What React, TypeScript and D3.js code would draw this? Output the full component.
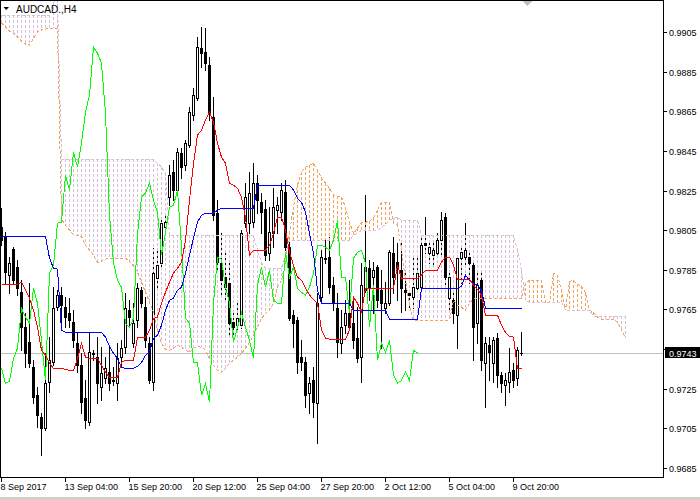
import React from "react";
import * as d3 from "d3";

const symbolLabel = "AUDCAD.,H4";
const lastPrice = 0.9743;
const chikouShift = 26;

const opens = [
  0.98065, 0.98015, 0.97823, 0.97954, 0.97863, 0.97737, 0.9756, 0.97484, 0.97358, 0.97217,
  0.97106, 0.9705, 0.97282, 0.97383, 0.97661, 0.97722, 0.97661, 0.97631, 0.97585, 0.97479,
  0.97368, 0.97201, 0.9708, 0.97429, 0.97409, 0.97257, 0.97302, 0.97333, 0.97292, 0.97277,
  0.97409, 0.97459, 0.97646, 0.97479, 0.97595, 0.97747, 0.97661, 0.97479, 0.97282, 0.97807,
  0.97883, 0.98065, 0.98216, 0.98343, 0.98252, 0.98439, 0.98378, 0.98479, 0.9863, 0.98716,
  0.98969, 0.98948, 0.98883, 0.9862, 0.98136, 0.97883, 0.97812, 0.97782, 0.97585, 0.9757,
  0.9757, 0.98085, 0.98085, 0.9809, 0.98287, 0.98191, 0.98156, 0.97934, 0.98034, 0.98151,
  0.98141, 0.98242, 0.97964, 0.97621, 0.97595, 0.97409, 0.97383, 0.97227, 0.97292, 0.97176,
  0.97712, 0.97909, 0.97914, 0.97772, 0.97656, 0.97479, 0.9757, 0.97631, 0.9758, 0.97505,
  0.97409, 0.97747, 0.97858, 0.97812, 0.97863, 0.97747, 0.97656, 0.97681, 0.97934, 0.97888,
  0.97848, 0.97747, 0.97732, 0.97712, 0.97757, 0.97762, 0.97984, 0.97934, 0.97924, 0.97934,
  0.97999, 0.98115, 0.97706, 0.97696, 0.97621, 0.97909, 0.97914, 0.97914, 0.97873, 0.9758,
  0.97797, 0.97378, 0.97469, 0.97378, 0.97505, 0.97318, 0.97267, 0.97282, 0.97343, 0.97302,
  0.97432,
];
const highs = [
  0.98161, 0.9804, 0.97914, 0.97964, 0.97898, 0.97797, 0.97631, 0.97782, 0.97393, 0.97257,
  0.97126, 0.97429, 0.9751, 0.97762, 0.97747, 0.97762, 0.97712, 0.97706, 0.97646, 0.9753,
  0.97429, 0.97292, 0.9753, 0.97444, 0.9751, 0.97459, 0.97409, 0.97459, 0.97358, 0.97479,
  0.97494, 0.97732, 0.97696, 0.97681, 0.97782, 0.97762, 0.97712, 0.9751, 0.97959, 0.97949,
  0.981, 0.98136, 0.98378, 0.98403, 0.98464, 0.98464, 0.98504, 0.98671, 0.98767, 0.99024,
  0.99075, 0.9907, 0.98923, 0.98721, 0.98201, 0.98034, 0.97934, 0.97898, 0.97631, 0.97696,
  0.9805, 0.98287, 0.98343, 0.98388, 0.98328, 0.98237, 0.98201, 0.98166, 0.98262, 0.98216,
  0.98287, 0.98302, 0.98015, 0.97646, 0.97611, 0.97494, 0.97409, 0.97307, 0.97358, 0.97732,
  0.97949, 0.97999, 0.98015, 0.97812, 0.97732, 0.97646, 0.97696, 0.97797, 0.97712, 0.97661,
  0.97883, 0.98227, 0.97898, 0.97888, 0.97873, 0.97848, 0.97787, 0.97949, 0.98015, 0.97984,
  0.97984, 0.97833, 0.97747, 0.97914, 0.97914, 0.98015, 0.98115, 0.97999, 0.97984, 0.98034,
  0.98141, 0.98136, 0.97848, 0.97747, 0.97924, 0.97974, 0.98085, 0.97949, 0.97883, 0.97833,
  0.97848, 0.9751, 0.9751, 0.9751, 0.9753, 0.97333, 0.97328, 0.97454, 0.97378, 0.97459,
  0.97535,
];
const lows = [
  0.97974, 0.97782, 0.97732, 0.97782, 0.97722, 0.97444, 0.97358, 0.97358, 0.97176, 0.97055,
  0.96914, 0.9704, 0.97232, 0.97368, 0.97646, 0.9756, 0.9756, 0.9756, 0.97459, 0.97333,
  0.97126, 0.9705, 0.97065, 0.97393, 0.97176, 0.97191, 0.97277, 0.97242, 0.97267, 0.97191,
  0.97358, 0.97429, 0.9756, 0.97459, 0.9756, 0.97661, 0.97459, 0.97277, 0.97242, 0.97747,
  0.97863, 0.98025, 0.98176, 0.98201, 0.98237, 0.98312, 0.98353, 0.98469, 0.98605, 0.98706,
  0.98873, 0.98858, 0.98605, 0.981, 0.97848, 0.97712, 0.97696, 0.9751, 0.97494, 0.97545,
  0.97555, 0.98065, 0.98034, 0.98065, 0.98136, 0.98034, 0.97898, 0.97898, 0.97964, 0.98034,
  0.981, 0.97949, 0.97595, 0.97459, 0.97328, 0.97343, 0.97156, 0.97126, 0.97106, 0.96974,
  0.97681, 0.97883, 0.97732, 0.97646, 0.97409, 0.97429, 0.9753, 0.97545, 0.97454, 0.97383,
  0.97282, 0.97737, 0.97696, 0.97631, 0.97661, 0.97454, 0.97631, 0.97671, 0.97732, 0.97696,
  0.97636, 0.97646, 0.97661, 0.97656, 0.97747, 0.97747, 0.97934, 0.97883, 0.97863, 0.97914,
  0.97914, 0.97762, 0.97646, 0.9758, 0.97454, 0.97782, 0.97863, 0.97782, 0.97393, 0.97479,
  0.97343, 0.97156, 0.97292, 0.97282, 0.97257, 0.97232, 0.97166, 0.97232, 0.97257, 0.97267,
  0.97419,
];
const closes = [
  0.97999, 0.97838, 0.97883, 0.97797, 0.97757, 0.9756, 0.97429, 0.97378, 0.97207, 0.97116,
  0.9705, 0.97277, 0.97393, 0.97656, 0.97722, 0.97671, 0.97611, 0.97595, 0.97494, 0.97368,
  0.97181, 0.9709, 0.97434, 0.97424, 0.97277, 0.97328, 0.97353, 0.97277, 0.97287, 0.97403,
  0.97454, 0.97656, 0.97611, 0.9758, 0.97757, 0.97681, 0.97494, 0.97292, 0.97833, 0.97873,
  0.98085, 0.9809, 0.98328, 0.98252, 0.98444, 0.98368, 0.98489, 0.98646, 0.98731, 0.98974,
  0.98943, 0.98893, 0.9864, 0.98126, 0.97888, 0.97797, 0.97762, 0.9758, 0.9756, 0.97605,
  0.98034, 0.98216, 0.98237, 0.98287, 0.98201, 0.98141, 0.97924, 0.9804, 0.98166, 0.98176,
  0.98252, 0.97964, 0.97605, 0.9758, 0.97383, 0.97383, 0.97217, 0.97277, 0.97181, 0.97681,
  0.97914, 0.97904, 0.97762, 0.97681, 0.97484, 0.9756, 0.97631, 0.9756, 0.97494, 0.97403,
  0.97772, 0.97863, 0.97762, 0.97848, 0.97696, 0.97681, 0.97681, 0.97939, 0.97812, 0.97863,
  0.97757, 0.97737, 0.97722, 0.97762, 0.97833, 0.97974, 0.97974, 0.97964, 0.97949, 0.97999,
  0.981, 0.97812, 0.97812, 0.97631, 0.97909, 0.97939, 0.97949, 0.97883, 0.9756, 0.97772,
  0.97393, 0.97479, 0.97434, 0.97494, 0.97318, 0.97277, 0.97292, 0.97333, 0.97292, 0.97444,
  0.9743,
];

const tenkan = [
  0.97777, 0.97777, 0.97777, 0.97777, 0.97777, 0.97787, 0.97747, 0.97706, 0.97646, 0.9756,
  0.97444, 0.97419, 0.97378, 0.97353, 0.97353, 0.97353, 0.97348, 0.97343, 0.97343, 0.97403,
  0.97479, 0.97409, 0.97403, 0.97403, 0.97403, 0.97368, 0.97333, 0.97307, 0.97307, 0.97307,
  0.97383, 0.97393, 0.97393, 0.97393, 0.9751, 0.9751, 0.9751, 0.97545, 0.97605, 0.97611,
  0.97681, 0.97737, 0.97787, 0.97833, 0.97858, 0.97888, 0.97999, 0.98201, 0.98388, 0.9853,
  0.98555, 0.98605, 0.98646, 0.98595, 0.98489, 0.98418, 0.98388, 0.98287, 0.98277, 0.98262,
  0.98216, 0.98115, 0.97924, 0.97949, 0.97949, 0.97949, 0.97949, 0.97974, 0.98034, 0.98115,
  0.98115, 0.9805, 0.97939, 0.97873, 0.97812, 0.97797, 0.97757, 0.97722, 0.97701, 0.97681,
  0.97545, 0.97505, 0.975, 0.975, 0.975, 0.975, 0.975, 0.97545, 0.97712, 0.97681,
  0.97636, 0.97757, 0.97757, 0.97757, 0.97757, 0.97757, 0.97757, 0.97757, 0.97757, 0.97873,
  0.97807, 0.97807, 0.97807, 0.97807, 0.97807, 0.97823, 0.97848, 0.97848, 0.97848, 0.97848,
  0.97888, 0.97914, 0.97914, 0.97873, 0.97802, 0.97802, 0.97802, 0.97802, 0.97772, 0.97752,
  0.97722, 0.97621, 0.97621, 0.97621, 0.97621, 0.9757, 0.97535, 0.97515, 0.9751, 0.97353,
  0.97353,
];
const kijun = [
  0.98019, 0.98019, 0.98019, 0.98019, 0.98019, 0.98019, 0.98019, 0.98019, 0.98019, 0.98019,
  0.98019, 0.98019, 0.97909, 0.97858, 0.97853, 0.97545, 0.97535, 0.97535, 0.97535, 0.97535,
  0.97535, 0.97535, 0.97535, 0.97535, 0.97535, 0.97535, 0.9751, 0.97464, 0.97429, 0.97403,
  0.97358, 0.97353, 0.97353, 0.97353, 0.97363, 0.97383, 0.97419, 0.97434, 0.97505, 0.9752,
  0.9757, 0.97646, 0.97696, 0.97706, 0.97747, 0.97762, 0.97833, 0.97924, 0.98009, 0.9809,
  0.98126, 0.98136, 0.98136, 0.98136, 0.98151, 0.98161, 0.98161, 0.98161, 0.98161, 0.98161,
  0.98161, 0.98161, 0.98161, 0.98161, 0.98277, 0.98277, 0.98277, 0.98277, 0.98277, 0.98277,
  0.98277, 0.98277, 0.98277, 0.98252, 0.98211, 0.98191, 0.98141, 0.98034, 0.97934, 0.97747,
  0.97681, 0.97681, 0.97681, 0.97681, 0.97681, 0.97681, 0.97681, 0.97681, 0.97646, 0.97646,
  0.97646, 0.97646, 0.97646, 0.97646, 0.97646, 0.97646, 0.97646, 0.976, 0.976, 0.976,
  0.976, 0.976, 0.976, 0.976, 0.976, 0.97757, 0.97757, 0.97757, 0.97757, 0.97757,
  0.97757, 0.97757, 0.97757, 0.97757, 0.97757, 0.97767, 0.97823, 0.97797, 0.97782, 0.97772,
  0.97747, 0.97656, 0.97656, 0.97656, 0.97656, 0.97656, 0.97656, 0.97656, 0.97656, 0.97656,
  0.97656,
];
const senkouA = [
  0.99095, 0.99075, 0.99055, 0.99044, 0.99024, 0.99004, 0.98989, 0.98984, 0.99019, 0.9905,
  0.9906, 0.99065, 0.9907, 0.9907, 0.9907, 0.98105, 0.98075, 0.9805, 0.98029, 0.98024,
  0.98019, 0.97974, 0.97949, 0.97924, 0.97888, 0.97893, 0.97904, 0.97909, 0.97909, 0.97909,
  0.97909, 0.97909, 0.97893, 0.97868, 0.97838, 0.97787, 0.97737, 0.97686, 0.97636, 0.97545,
  0.97479, 0.97449, 0.97444, 0.97454, 0.97469, 0.97459, 0.97444, 0.97434, 0.97454, 0.97464,
  0.97459, 0.97444, 0.97403, 0.97368, 0.97343, 0.97333, 0.97353, 0.97378, 0.97393, 0.97409,
  0.97429, 0.97454, 0.97484, 0.9752, 0.9756, 0.97605, 0.97631, 0.97646, 0.97681, 0.97762,
  0.97797, 0.97888, 0.9804, 0.98166, 0.98277, 0.98343, 0.98368, 0.98378, 0.98388, 0.98353,
  0.98312, 0.98287, 0.98262, 0.98227, 0.98221, 0.98216, 0.98166, 0.9809, 0.98034, 0.9806,
  0.9809, 0.9809, 0.98095, 0.9811, 0.98151, 0.98191, 0.98191, 0.98191, 0.98085, 0.98075,
  0.97949, 0.97797, 0.97671, 0.97595, 0.97595, 0.97595, 0.97595, 0.97595, 0.97595, 0.97595,
  0.97595, 0.97595, 0.97595, 0.97696, 0.97671, 0.97661, 0.97646, 0.97681, 0.97706, 0.97706,
  0.97706, 0.97706, 0.97706, 0.97706, 0.97706, 0.97706, 0.97706, 0.97706, 0.97706, 0.97706,
  0.97706, 0.97782, 0.97797, 0.97797, 0.97797, 0.97797, 0.97686, 0.97686, 0.97833, 0.97823,
  0.97747, 0.97646, 0.97792, 0.97797, 0.97777, 0.97767, 0.97732, 0.97646, 0.97636, 0.97611,
  0.976, 0.976, 0.976, 0.976, 0.97585, 0.97545, 0.97505,
];
const senkouB = [
  0.99135, 0.99135, 0.99135, 0.99135, 0.99135, 0.99135, 0.99135, 0.99135, 0.99135, 0.99135,
  0.99135, 0.99135, 0.99135, 0.99201, 0.99211, 0.98408, 0.98408, 0.98408, 0.98408, 0.98408,
  0.98408, 0.98408, 0.98408, 0.98408, 0.98408, 0.98408, 0.98408, 0.98408, 0.98408, 0.98408,
  0.98408, 0.98408, 0.98408, 0.98408, 0.98408, 0.98408, 0.98408, 0.98408, 0.98408, 0.98388,
  0.98368, 0.98337, 0.98024, 0.98024, 0.98024, 0.98024, 0.98024, 0.98024, 0.98024, 0.98024,
  0.98024, 0.98024, 0.98024, 0.98024, 0.98024, 0.98024, 0.98024, 0.98024, 0.98024, 0.98024,
  0.98024, 0.98024, 0.98024, 0.98024, 0.97949, 0.97888, 0.97858, 0.97858, 0.97858, 0.97858,
  0.97858, 0.97924, 0.97999, 0.97999, 0.97999, 0.97999, 0.97999, 0.97999, 0.97999, 0.97999,
  0.97999, 0.97999, 0.97999, 0.97999, 0.97999, 0.97999, 0.97999, 0.97999, 0.98024, 0.98034,
  0.9805, 0.9805, 0.9805, 0.9805, 0.9805, 0.98065, 0.9808, 0.981, 0.9811, 0.98115,
  0.981, 0.981, 0.981, 0.981, 0.981, 0.98024, 0.98024, 0.98024, 0.98024, 0.98024,
  0.98024, 0.98024, 0.98024, 0.98024, 0.98024, 0.98024, 0.98024, 0.98024, 0.98024, 0.98024,
  0.98024, 0.98024, 0.98024, 0.98024, 0.98024, 0.98024, 0.98024, 0.98024, 0.98024, 0.97949,
  0.97848, 0.97696, 0.97686, 0.97686, 0.97686, 0.97686, 0.97686, 0.97686, 0.97686, 0.97686,
  0.97686, 0.97646, 0.97646, 0.97646, 0.97646, 0.97646, 0.97646, 0.97646, 0.97616, 0.97616,
  0.97616, 0.97616, 0.97616, 0.97616, 0.97616, 0.97616, 0.97616,
];

const priceTicks = [
  0.9685, 0.9705, 0.9725, 0.9745, 0.9765, 0.9785, 0.9805, 0.9825, 0.9845, 0.9865, 0.9885, 0.9905,
];
const timeLabels = [
  "8 Sep 2017", "13 Sep 04:00", "15 Sep 20:00", "20 Sep 12:00", "25 Sep 04:00",
  "27 Sep 20:00", "2 Oct 12:00", "5 Oct 04:00", "9 Oct 20:00",
];
const timeLabelBars = [0, 16, 32, 48, 64, 80, 96, 112, 128];

const C_TENKAN = "#FF0000";
const C_KIJUN = "#0000FF";
const C_CHIKOU = "#00FF00";
const C_SPANA = "#F4A460";
const C_SPANB = "#D8BFD8";
const FONT = "'Liberation Sans', Arial, sans-serif";

export default function App() {
  const W = 700;
  const H = 500;
  const plotR = 663;
  const plotB = 477;

  const y = d3.scaleLinear().domain([0.9685, 0.9905]).range([468, 32]);
  const x = d3.scaleLinear().domain([0, 130]).range([1, 521]);
  const col = (i: number) => Math.round(x(i));
  const row = (v: number) => Math.round(y(v));

  const lineGen = d3
    .line<number>()
    .x((_, i) => col(i) + 0.5)
    .y((d) => y(d));

  const chikou = closes.slice(chikouShift);

  const wicks = opens.map((o, i) => {
    const c = col(i);
    return (
      <line
        key={"w" + i}
        x1={c + 0.5}
        x2={c + 0.5}
        y1={row(highs[i])}
        y2={row(lows[i]) + 1}
        stroke="#000"
        strokeWidth={1}
      />
    );
  });

  const bodies = opens.map((o, i) => {
    const c = col(i);
    const cl = closes[i];
    const yo = row(o);
    const yc = row(cl);
    const top = Math.min(yo, yc);
    const bot = Math.max(yo, yc);
    if (yo === yc) {
      return (
        <line key={"b" + i} x1={c - 1} x2={c + 2} y1={top + 0.5} y2={top + 0.5} stroke="#000" />
      );
    }
    if (cl > o) {
      return (
        <rect
          key={"b" + i}
          x={c - 0.5}
          y={top + 0.5}
          width={2}
          height={bot - top}
          fill="#fff"
          stroke="#000"
          strokeWidth={1}
        />
      );
    }
    return <rect key={"b" + i} x={c - 1} y={top} width={3} height={bot - top + 1} fill="#000" />;
  });

  const hatch = senkouA.map((a, j) => {
    const b = senkouB[j];
    const c = col(j);
    const ya = row(a);
    const yb = row(b);
    if (ya === yb) return null;
    return (
      <line
        key={"h" + j}
        x1={c + 0.5}
        x2={c + 0.5}
        y1={Math.min(ya, yb)}
        y2={Math.max(ya, yb)}
        stroke={a >= b ? C_SPANA : C_SPANB}
        strokeWidth={1}
        strokeDasharray="3,2"
      />
    );
  });

  const priceY = row(lastPrice) + 0.5;

  return (
    <svg
      width={W}
      height={H}
      style={{ position: "absolute", left: 0, top: 0, display: "block", background: "#fff" }}
    >
      <defs>
        <clipPath id="plot">
          <rect x={1} y={1} width={plotR - 1} height={plotB - 1} />
        </clipPath>
      </defs>
      <rect x={0} y={0} width={W} height={H} fill="#fff" />
      <rect x={0} y={497} width={W} height={3} fill="#D4D0C8" />

      <g clipPath="url(#plot)" shapeRendering="crispEdges">
        <line x1={0} x2={plotR} y1={priceY} y2={priceY} stroke="#C0C0C0" />
        {wicks}
        {hatch}
        {bodies}
        <path d={lineGen(senkouA) || ""} fill="none" stroke={C_SPANA} strokeDasharray="3,2" />
        <path d={lineGen(senkouB) || ""} fill="none" stroke={C_SPANB} strokeDasharray="3,2" />
        <path d={lineGen(chikou) || ""} fill="none" stroke={C_CHIKOU} />
        <path d={lineGen(kijun) || ""} fill="none" stroke={C_KIJUN} />
        <path d={lineGen(tenkan) || ""} fill="none" stroke={C_TENKAN} />
        <polygon points="522,1 533,1 527.5,6" fill="#C0C0C0" />
      </g>

      <rect x={0.5} y={0.5} width={plotR} height={plotB} fill="none" stroke="#000" shapeRendering="crispEdges" />

      {priceTicks.map((t) => {
        const ty = row(t) + 0.5;
        return (
          <g key={"pt" + t}>
            <line x1={plotR} x2={plotR + 4} y1={ty} y2={ty} stroke="#000" shapeRendering="crispEdges" />
            <text x={669} y={ty + 3.5} fontFamily={FONT} fontSize={9} fill="#000">
              {t.toFixed(4)}
            </text>
          </g>
        );
      })}

      <rect x={665} y={priceY - 6.5} width={35} height={11} fill="#000" />
      <text x={669} y={priceY + 3} fontFamily={FONT} fontSize={9} fill="#fff">
        {lastPrice.toFixed(4)}
      </text>

      {timeLabels.map((lab, k) => {
        const tx = col(timeLabelBars[k]) + 0.5;
        return (
          <g key={"tl" + k}>
            <line x1={tx} x2={tx} y1={plotB} y2={plotB + 5} stroke="#000" shapeRendering="crispEdges" />
            <text x={tx - 1} y={490} fontFamily={FONT} fontSize={9} fill="#000">
              {lab}
            </text>
          </g>
        );
      })}

      <polygon points="3.5,7 9,7 6.25,10" fill="#000" />
      <text x={16} y={13} fontFamily={FONT} fontSize={10} fill="#000">
        {symbolLabel}
      </text>
    </svg>
  );
}
